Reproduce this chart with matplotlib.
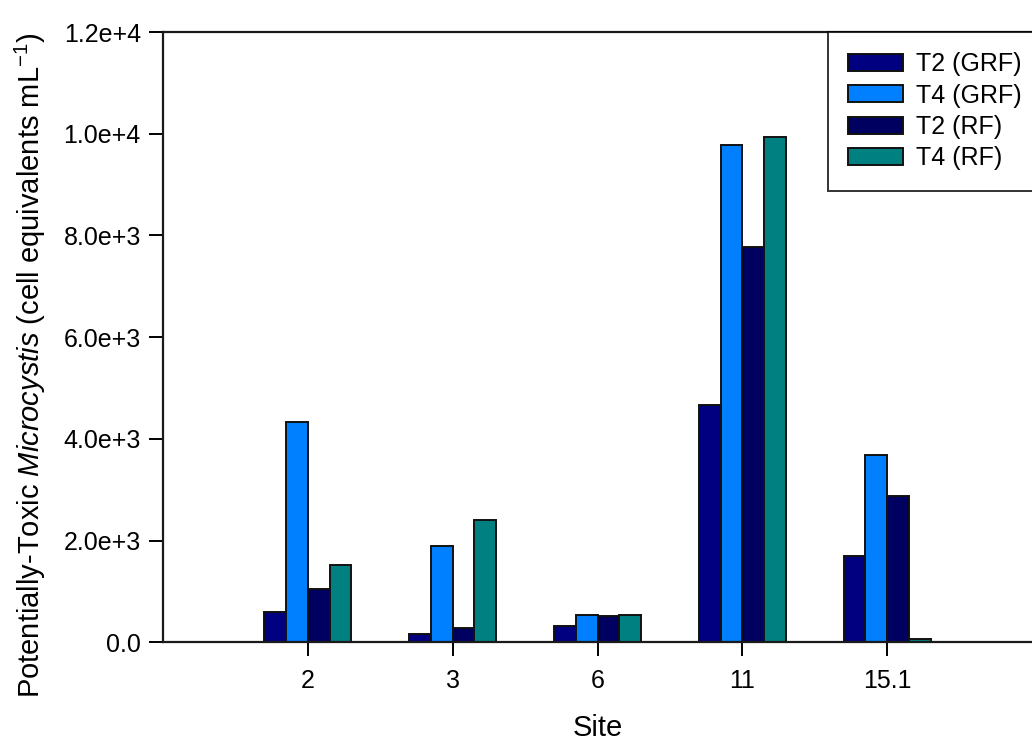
import numpy as np
import matplotlib
matplotlib.use("Agg")
import matplotlib.pyplot as plt
from matplotlib.ticker import FuncFormatter

plt.rcParams['font.family'] = ['Liberation Sans', 'DejaVu Sans']
plt.rcParams['mathtext.fontset'] = 'custom'
plt.rcParams['mathtext.rm'] = 'Liberation Sans'
plt.rcParams['mathtext.it'] = 'Liberation Sans:italic'

sites = ["2", "3", "6", "11", "15.1"]
series = ["T2 (GRF)", "T4 (GRF)", "T2 (RF)", "T4 (RF)"]
t2_grf = [600, 160, 315, 4660, 1705]
t4_grf = [4330, 1900, 545, 9780, 3690]
t2_rf = [1045, 290, 520, 7780, 2880]
t4_rf = [1520, 2395, 530, 9940, 65]
colors = ["#000080", "#0080ff", "#000060", "#008080"]

fig = plt.figure(figsize=(10.32, 7.42), dpi=100)
ax = fig.add_axes([163/1032, 1 - 642.3/742, (1032 - 163)/1032, 610.3/742])

x = np.arange(len(sites))
w = 0.15
for k, (vals, c, lab) in enumerate(zip([t2_grf, t4_grf, t2_rf, t4_rf], colors, series)):
    ax.bar(x + (k - 1.5) * w, vals, width=w, color=c, edgecolor="#111111",
           linewidth=1.4, label=lab, zorder=2)

ax.set_xlim(-1, 5)
ax.set_ylim(0, 12000)
ax.set_xticks(x)
ax.set_xticklabels(sites)
ax.set_yticks(np.arange(0, 12001, 2000))

def sci(v, p):
    if v == 0:
        return "0.0"
    e = int(np.floor(np.log10(v)))
    return "%.1fe+%d" % (v / 10**e, e)

ax.yaxis.set_major_formatter(FuncFormatter(sci))
ax.tick_params(axis="both", direction="out", length=10, width=1.4, labelsize=18, pad=6)
ax.tick_params(axis="x", pad=9)

ax.spines["right"].set_visible(False)
for s in ["left", "bottom", "top"]:
    ax.spines[s].set_linewidth(1.6)
    ax.spines[s].set_color("#1a1a1a")

ax.set_xlabel("Site", fontsize=21)
ax.set_ylabel(r"Potentially-Toxic $\it{Microcystis}$ (cell equivalents mL$^{-1}$)",
              fontsize=21)
ax.xaxis.set_label_coords(0.5, -0.141)
ax.xaxis.label.set_va("center")
ax.yaxis.set_label_coords(-0.153, 0.454)
ax.yaxis.label.set_va("center")

leg = ax.legend(loc="upper left", bbox_to_anchor=((828 - 163)/869, 1.0), fontsize=18,
                frameon=True, fancybox=False, edgecolor="black", borderpad=0.8,
                handlelength=2.2, handleheight=0.65, labelspacing=0.3,
                borderaxespad=0, handletextpad=0.5)
leg.get_frame().set_linewidth(1.4)

fig.savefig("out.png", dpi=100)
